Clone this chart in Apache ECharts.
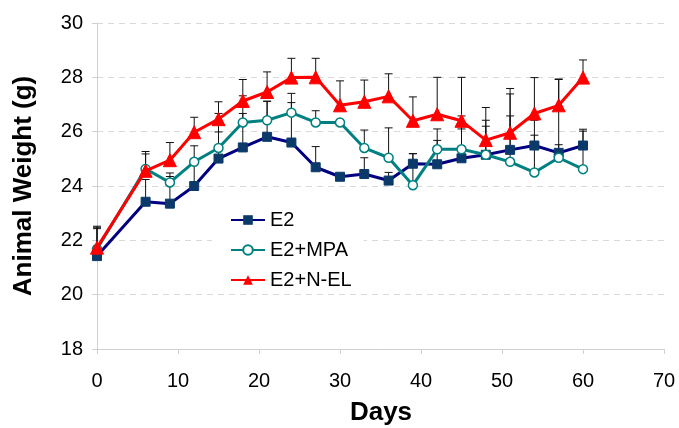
<!DOCTYPE html>
<html>
<head>
<meta charset="utf-8">
<script src="https://cdn.jsdelivr.net/npm/echarts@6/dist/echarts.min.js"></script>
<style>
  html, body { margin: 0; padding: 0; background: #fff; }
  #main { width: 679px; height: 428px; }
</style>
</head>
<body>
<div id="main"></div>
<script>
var days = [0, 6, 9, 12, 15, 18, 21, 24, 27, 30, 33, 36, 39, 42, 45, 48, 51, 54, 57, 60];

var e2 = [21.42, 23.42, 23.35, 24.0, 25.01, 25.42, 25.81, 25.6, 24.69, 24.34, 24.44, 24.2, 24.82, 24.8, 25.02, 25.15, 25.33, 25.49, 25.22, 25.49];
var e2Err = [1.1, 0.82, 1.0, 0.9, 0.98, 1.25, 1.31, 1.47, 0.76, 0.1, 0.6, 0.3, 0.37, 0.88, 1.08, 1.05, 1.25, 0.38, 0.3, 0.6];

var mpa = [21.68, 24.63, 24.13, 24.89, 25.4, 26.34, 26.42, 26.7, 26.34, 26.34, 25.4, 25.04, 24.03, 25.35, 25.35, 25.15, 24.89, 24.5, 25.04, 24.62];
var mpaErr = [0.8, 0.55, 0.35, 0.59, 1.27, 0.98, 0.7, 0.71, 0.43, 0.1, 0.66, 1.1, 1.16, 0.75, 1.23, 1.27, 2.5, 1.92, 2.9, 1.4];

var nel = [21.73, 24.56, 24.95, 25.98, 26.46, 27.13, 27.46, 27.99, 28.0, 26.97, 27.1, 27.3, 26.4, 26.64, 26.4, 25.69, 25.96, 26.67, 26.97, 27.99];
var nelErr = [0.7, 0.71, 0.65, 0.55, 0.64, 0.79, 0.74, 0.71, 0.7, 0.9, 0.8, 0.83, 0.88, 1.36, 1.6, 1.2, 1.63, 1.32, 0.95, 0.65];

var font = 'Liberation Sans, Arial, sans-serif';

function pairs(vals) {
  return days.map(function (d, i) { return [d, vals[i]]; });
}

// upper error bars, drawn under the lines
function errorBars(id, vals, errs) {
  return {
    type: 'custom',
    id: id,
    silent: true,
    z: 1,
    renderItem: function (params, api) {
      var p0 = api.coord([api.value(0), api.value(1)]);
      var p1 = api.coord([api.value(0), api.value(2)]);
      var st = { stroke: '#111', lineWidth: 1 };
      return {
        type: 'group',
        children: [
          { type: 'line', shape: { x1: p0[0], y1: p0[1], x2: p1[0], y2: p1[1] }, style: st },
          { type: 'line', shape: { x1: p1[0] - 4, y1: p1[1], x2: p1[0] + 4, y2: p1[1] }, style: st }
        ]
      };
    },
    data: days.map(function (d, i) { return [d, vals[i], vals[i] + errs[i]]; })
  };
}

var chart = echarts.init(document.getElementById('main'));

var option = {
  animation: false,
  backgroundColor: '#fff',
  grid: { left: 97, right: 15, top: 23, bottom: 79 },
  legend: {
    data: ['E2', 'E2+MPA', 'E2+N-EL'],
    orient: 'vertical',
    left: 212,
    top: 198,
    padding: [12, 12, 3, 18],
    backgroundColor: '#fff',
    itemWidth: 34,
    itemHeight: 12,
    itemGap: 10,
    textStyle: { fontFamily: font, fontSize: 20, color: '#000' }
  },
  xAxis: {
    type: 'value',
    min: 0,
    max: 70,
    interval: 10,
    axisLine: { show: true, lineStyle: { color: '#d0d0d0' } },
    axisTick: { show: true, length: 5, lineStyle: { color: '#d0d0d0' } },
    axisLabel: { margin: 22, fontFamily: font, fontSize: 20, color: '#000' },
    splitLine: { show: false }
  },
  yAxis: {
    type: 'value',
    min: 18,
    max: 30,
    interval: 2,
    axisLine: { show: true, lineStyle: { color: '#d0d0d0' } },
    axisTick: { show: true, length: 5, lineStyle: { color: '#d0d0d0' } },
    axisLabel: { margin: 14, fontFamily: font, fontSize: 20, color: '#000' },
    splitLine: { show: true, lineStyle: { color: '#d9d9d9', type: [6, 5] } }
  },
  graphic: [
    {
      type: 'text',
      x: 24, y: 186,
      rotation: Math.PI / 2,
      style: {
        text: 'Animal Weight (g)',
        font: 'bold 26px ' + font,
        fill: '#000',
        align: 'center',
        verticalAlign: 'middle'
      }
    },
    {
      type: 'text',
      x: 381, y: 413,
      style: {
        text: 'Days',
        font: 'bold 26px ' + font,
        fill: '#000',
        align: 'center',
        verticalAlign: 'middle'
      }
    }
  ],
  series: [
    errorBars('e2err', e2, e2Err),
    errorBars('mpaerr', mpa, mpaErr),
    errorBars('nelerr', nel, nelErr),
    {
      name: 'E2',
      type: 'line',
      z: 3,
      data: pairs(e2),
      symbol: 'rect',
      symbolSize: 9,
      lineStyle: { color: '#000080', width: 3 },
      itemStyle: { color: '#0b3a6a', borderColor: '#0b3a6a' }
    },
    {
      name: 'E2+MPA',
      type: 'line',
      z: 4,
      data: pairs(mpa),
      symbol: 'circle',
      symbolSize: 9,
      lineStyle: { color: '#008080', width: 3 },
      itemStyle: { color: '#fff', borderColor: '#008080', borderWidth: 1.5 }
    },
    {
      name: 'E2+N-EL',
      type: 'line',
      z: 5,
      data: pairs(nel),
      symbol: 'triangle',
      symbolSize: 13,
      lineStyle: { color: '#ff0000', width: 3 },
      itemStyle: { color: '#ff0000', borderColor: '#ff0000' }
    }
  ]
};

option && chart.setOption(option);
</script>
</body>
</html>
